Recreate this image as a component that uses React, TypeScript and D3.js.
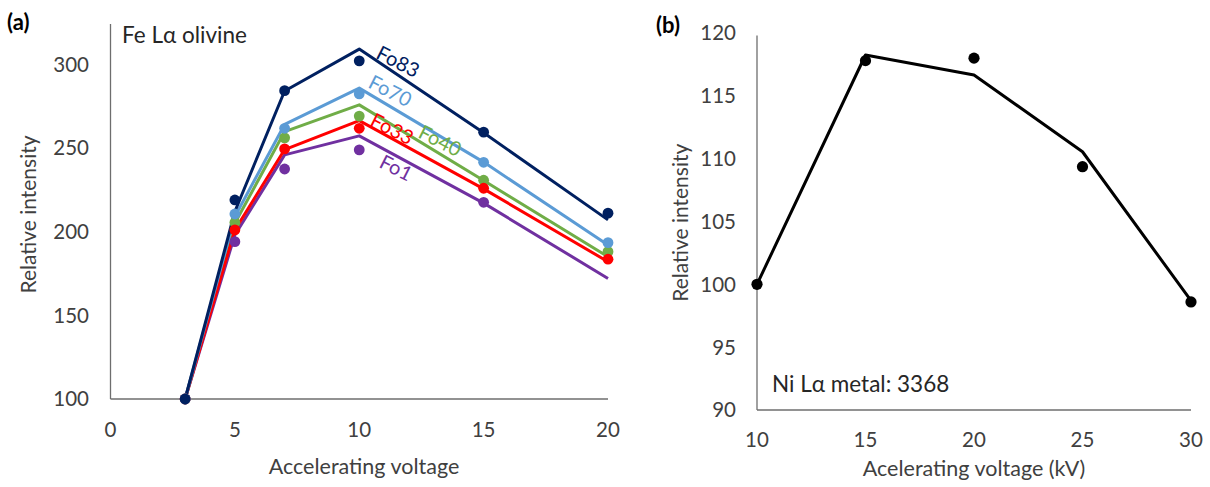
import React from "react";
import * as d3 from "d3";

// ---------- Panel (a) data ----------
const voltsA = [3, 5, 7, 10, 15, 20];
const seriesNames = ["Fo1", "Fo40", "Fo33", "Fo70", "Fo83"];
const seriesColors = ["#7030A0", "#70AD47", "#FF0000", "#5B9BD5", "#002060"];
// modelled curves (lines)
const lineFo1 = [100, 198, 245.8, 257.2, 217, 172];
const lineFo40 = [100, 205, 259.7, 275.7, 230.5, 185];
const lineFo33 = [100, 201, 249, 266.3, 225.5, 182];
const lineFo70 = [100, 209, 264, 285.7, 241.5, 192];
const lineFo83 = [100, 212, 284, 309, 259, 207];
// measured points (dots)
const dotFo1 = [100, 194, 237.4, 248.8, 217.5, null];
const dotFo40 = [100, 205.4, 256, 269, 230.7, 188];
const dotFo33 = [100, 201, 249.4, 261.7, 225.9, 183.5];
const dotFo70 = [100, 210.5, 261.7, 282.3, 241.4, 193.4];
const dotFo83 = [100, 218.9, 284.2, 302, 259.4, 211];
// series label anchors (voltage, intensity)
const labelX = [11.48, 13.25, 11.32, 11.24, 11.56];
const labelY = [238, 254.2, 261.3, 284, 301.4];
const xTicksA = [0, 5, 10, 15, 20];
const yTicksA = [100, 150, 200, 250, 300];

// ---------- Panel (b) data ----------
const voltsB = [10, 15, 20, 25, 30];
const lineNi = [100, 118.25, 116.66, 110.55, 98.7];
const dotNi = [100, 117.8, 118.0, 109.36, 98.6];
const xTicksB = [10, 15, 20, 25, 30];
const yTicksB = [90, 95, 100, 105, 110, 115, 120];

const FONT = "Lato, 'Open Sans', sans-serif";
const TXT = "#404040";
const AXIS = "#6e6e6e";

export default function App() {
  // scales (a)
  const xA = d3.scaleLinear().domain([0, 20]).range([110.5, 608]);
  const yA = d3.scaleLinear().domain([100, 324]).range([399, 24]);
  // scales (b)
  const xB = d3.scaleLinear().domain([10, 30]).range([757, 1191]);
  const yB = d3.scaleLinear().domain([90, 120]).range([410, 33]);

  const lines = [lineFo1, lineFo40, lineFo33, lineFo70, lineFo83];
  const dots = [dotFo1, dotFo40, dotFo33, dotFo70, dotFo83];

  const lineGenA = d3
    .line<number>()
    .x((_, i) => xA(voltsA[i]))
    .y((d) => yA(d));
  const lineGenB = d3
    .line<number>()
    .x((_, i) => xB(voltsB[i]))
    .y((d) => yB(d));

  return (
    <svg
      width={1210}
      height={487}
      style={{ position: "absolute", left: 0, top: 0, background: "#fff" }}
      fontFamily={FONT}
    >
      <rect width={1210} height={487} fill="#fff" />
      {/* ---------------- Panel (a) ---------------- */}
      <text x={7} y={30} fontSize={22} fontWeight="bold" fill="#000">
        (a)
      </text>
      <line x1={xA(0)} x2={xA(0)} y1={yA(324)} y2={yA(100)} stroke={AXIS} strokeWidth={1.3} />
      <line x1={xA(0)} x2={xA(20)} y1={yA(100)} y2={yA(100)} stroke={AXIS} strokeWidth={1.3} />
      {yTicksA.map((t) => (
        <text key={t} x={89} y={yA(t)} dy="0.36em" textAnchor="end" fontSize={20.5} fill={TXT}>
          {t}
        </text>
      ))}
      {xTicksA.map((t) => (
        <text key={t} x={xA(t)} y={430} dy="0.36em" textAnchor="middle" fontSize={20.5} fill={TXT}>
          {t}
        </text>
      ))}
      <text x={364} y={474} textAnchor="middle" fontSize={21.5} fill={TXT}>
        Accelerating voltage
      </text>
      <text
        transform={`translate(36,${(yA(324) + yA(100)) / 2 + 3}) rotate(-90)`}
        textAnchor="middle"
        fontSize={21}
        fill={TXT}
      >
        Relative intensity
      </text>
      <text x={122} y={43} fontSize={22.5} fill="#262626">
        Fe Lα olivine
      </text>
      {lines.map((l, i) => (
        <path key={"l" + i} d={lineGenA(l) || ""} fill="none" stroke={seriesColors[i]} strokeWidth={3} strokeLinejoin="round" />
      ))}
      {dots.map((ds, i) =>
        ds.map((v, j) =>
          v == null ? null : (
            <circle key={"d" + i + "-" + j} cx={xA(voltsA[j])} cy={yA(v)} r={5.4} fill={seriesColors[i]} />
          )
        )
      )}
      {seriesNames.map((n, i) => (
        <text
          key={n}
          transform={`translate(${xA(labelX[i])},${yA(labelY[i])}) rotate(27)`}
          textAnchor="middle"
          dy="0.35em"
          fontSize={20}
          fill={seriesColors[i]}
        >
          {n}
        </text>
      ))}

      {/* ---------------- Panel (b) ---------------- */}
      <text x={656} y={33} fontSize={22} fontWeight="bold" fill="#000">
        (b)
      </text>
      <line x1={xB(10)} x2={xB(10)} y1={yB(119.8)} y2={yB(90)} stroke={AXIS} strokeWidth={1.3} />
      <line x1={xB(10)} x2={xB(30)} y1={yB(90)} y2={yB(90)} stroke={AXIS} strokeWidth={1.3} />
      {yTicksB.map((t) => (
        <text key={t} x={736} y={yB(t)} dy="0.36em" textAnchor="end" fontSize={20.5} fill={TXT}>
          {t}
        </text>
      ))}
      {xTicksB.map((t) => (
        <text key={t} x={xB(t)} y={440} dy="0.36em" textAnchor="middle" fontSize={20.5} fill={TXT}>
          {t}
        </text>
      ))}
      <text x={974} y={476} textAnchor="middle" fontSize={21.5} fill={TXT}>
        Acelerating voltage (kV)
      </text>
      <text
        transform={`translate(688,${(yB(119.8) + yB(90)) / 2}) rotate(-90)`}
        textAnchor="middle"
        fontSize={21}
        fill={TXT}
      >
        Relative intensity
      </text>
      <text x={772} y={392} fontSize={22.5} fill="#262626">
        Ni Lα metal: 3368
      </text>
      <path d={lineGenB(lineNi) || ""} fill="none" stroke="#000" strokeWidth={3} strokeLinejoin="round" />
      {dotNi.map((v, j) => (
        <circle key={"n" + j} cx={xB(voltsB[j])} cy={yB(v)} r={5.6} fill="#000" />
      ))}
    </svg>
  );
}
